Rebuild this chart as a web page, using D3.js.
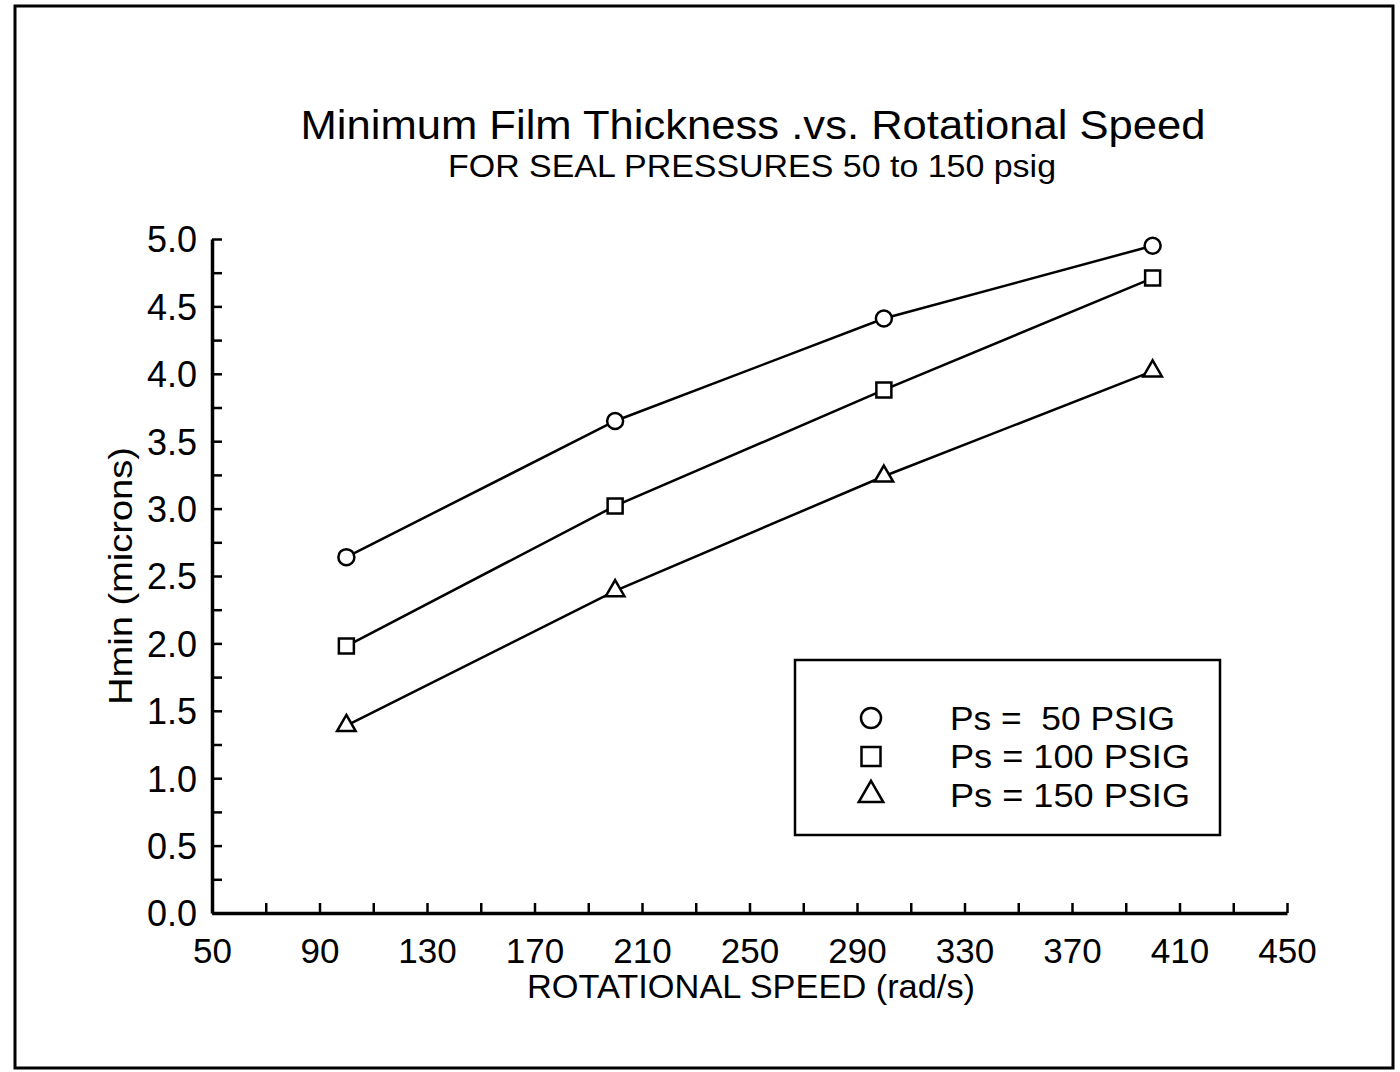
<!DOCTYPE html>
<html>
<head>
<meta charset="utf-8">
<script src="https://cdn.jsdelivr.net/npm/d3@7"></script>
<style>
  html, body { margin: 0; padding: 0; background: #fff; }
  svg { display: block; }
  text { font-family: "Liberation Sans", Arial, sans-serif; fill: #000; }
</style>
</head>
<body>
<svg id="chart" width="1400" height="1072"></svg>
<script>
// Rotational speed (rad/s) at which Hmin was computed
const speeds = [100, 200, 300, 400];
// Minimum film thickness (microns) for each seal pressure
const hmin50 = [2.64, 3.65, 4.41, 4.95];
const hmin100 = [1.98, 3.02, 3.88, 4.71];
const hmin150 = [1.39, 2.39, 3.24, 4.02];
const seriesNames = ["Ps =  50 PSIG", "Ps = 100 PSIG", "Ps = 150 PSIG"];
const seriesSymbols = ["circle", "square", "triangle"];
const xTickLabels = [50, 90, 130, 170, 210, 250, 290, 330, 370, 410, 450];
const yTickLabels = [0.0, 0.5, 1.0, 1.5, 2.0, 2.5, 3.0, 3.5, 4.0, 4.5, 5.0];

const svg = d3.select("#chart");

// Outer frame
svg.append("rect")
  .attr("x", 15).attr("y", 6).attr("width", 1378).attr("height", 1062)
  .attr("fill", "none").attr("stroke", "#000").attr("stroke-width", 3);

// Titles
svg.append("text")
  .attr("x", 753).attr("y", 139).attr("text-anchor", "middle")
  .attr("font-size", 41)
  .attr("textLength", 905).attr("lengthAdjust", "spacingAndGlyphs")
  .text("Minimum Film Thickness .vs. Rotational Speed");
svg.append("text")
  .attr("x", 752).attr("y", 177).attr("text-anchor", "middle")
  .attr("font-size", 32)
  .attr("textLength", 608).attr("lengthAdjust", "spacingAndGlyphs")
  .text("FOR SEAL PRESSURES 50 to 150 psig");

const x = d3.scaleLinear().domain([50, 450]).range([212, 1287]);
const y = d3.scaleLinear().domain([0, 5]).range([913, 239]);

// X axis: ticks every 20, labels every 40
const xAxis = svg.append("g").attr("transform", `translate(0,${y(0)})`)
  .call(d3.axisBottom(x)
    .tickValues(d3.range(50, 451, 20))
    .tickSizeInner(-10).tickSizeOuter(0)
    .tickFormat(d => xTickLabels.includes(d) ? d : ""));
xAxis.select(".domain").attr("stroke-width", 3.5);
xAxis.selectAll(".tick line").attr("stroke-width", 2.5);
xAxis.selectAll(".tick text")
  .attr("y", 50).attr("dy", 0)
  .attr("font-size", 35)
  .attr("font-family", "Liberation Sans, Arial, sans-serif");

// Y axis: ticks every 0.25, labels every 0.5
const yAxis = svg.append("g").attr("transform", `translate(${x(50)},0)`)
  .call(d3.axisLeft(y)
    .tickValues(d3.range(0, 5.001, 0.25))
    .tickSizeInner(-10).tickSizeOuter(0)
    .tickFormat(d => yTickLabels.some(v => Math.abs(v - d) < 1e-9) ? d3.format(".1f")(d) : ""));
yAxis.select(".domain").attr("stroke-width", 3.5);
yAxis.selectAll(".tick line").attr("stroke-width", 2.5);
yAxis.selectAll(".tick text")
  .attr("x", -15).attr("dy", "0.36em")
  .attr("font-size", 36)
  .attr("font-family", "Liberation Sans, Arial, sans-serif");

// Axis titles
svg.append("text")
  .attr("x", 751).attr("y", 998).attr("text-anchor", "middle")
  .attr("font-size", 34)
  .attr("textLength", 448).attr("lengthAdjust", "spacingAndGlyphs")
  .text("ROTATIONAL SPEED (rad/s)");
svg.append("text")
  .attr("transform", "translate(132,576) rotate(-90)")
  .attr("text-anchor", "middle")
  .attr("font-size", 34)
  .attr("textLength", 258).attr("lengthAdjust", "spacingAndGlyphs")
  .text("Hmin (microns)");

// Marker shapes
const symbolPath = {
  circle: d3.symbol().type(d3.symbolCircle).size(Math.PI * 8 * 8)(),
  square: d3.symbol().type(d3.symbolSquare).size(15 * 15)(),
  triangle: d3.symbol().type(d3.symbolTriangle).size(150)()
};

const allSeries = [hmin50, hmin100, hmin150];
const line = d3.line().x((d, i) => x(speeds[i])).y(d => y(d));

allSeries.forEach((vals, si) => {
  svg.append("path")
    .attr("d", line(vals))
    .attr("fill", "none").attr("stroke", "#000").attr("stroke-width", 2.5);
  svg.selectAll(null).data(vals).enter().append("path")
    .attr("d", symbolPath[seriesSymbols[si]])
    .attr("transform", (d, i) => `translate(${x(speeds[i])},${y(d)})`)
    .attr("fill", "#fff").attr("stroke", "#000").attr("stroke-width", 2.5);
});

// Legend
const legend = svg.append("g");
legend.append("rect")
  .attr("x", 795).attr("y", 660).attr("width", 425).attr("height", 175)
  .attr("fill", "#fff").attr("stroke", "#000").attr("stroke-width", 2.5);
const legendSymbols = {
  circle: d3.symbol().type(d3.symbolCircle).size(Math.PI * 10 * 10)(),
  square: d3.symbol().type(d3.symbolSquare).size(19 * 19)(),
  triangle: d3.symbol().type(d3.symbolTriangle).size(260)()
};
const legendWidths = [225, 240, 240];
seriesNames.forEach((name, i) => {
  const cy = 718 + i * 38.5;
  legend.append("path")
    .attr("d", legendSymbols[seriesSymbols[i]])
    .attr("transform", `translate(871,${cy})`)
    .attr("fill", "none").attr("stroke", "#000").attr("stroke-width", 2.5);
  legend.append("text")
    .attr("x", 950).attr("y", cy).attr("dy", "0.36em")
    .attr("font-size", 33)
    .attr("textLength", legendWidths[i]).attr("lengthAdjust", "spacingAndGlyphs")
    .style("white-space", "pre")
    .text(name);
});
</script>
</body>
</html>
